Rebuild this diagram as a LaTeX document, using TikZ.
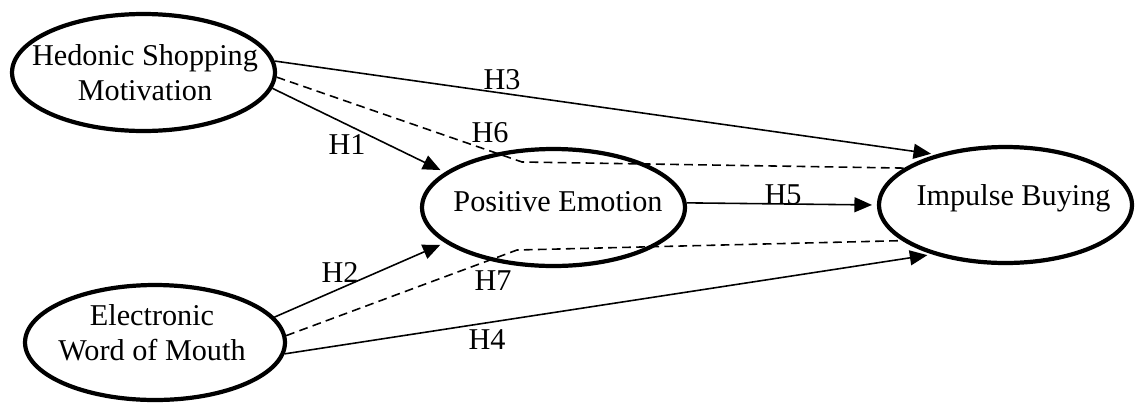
\documentclass[tikz,border=0pt]{standalone}
\usepackage{fontspec}
\setmainfont{Liberation Serif}
\usetikzlibrary{shapes.geometric,arrows.meta}
\begin{document}
\begin{tikzpicture}[x=0.02cm,y=-0.02cm,
  ell/.style={draw, ellipse, line width=2.4pt, inner sep=0pt},
  txt/.style={font=\fontsize{17.2}{19.84}\selectfont, align=center, inner sep=0pt},
  lab/.style={font=\fontsize{17.2}{19.84}\selectfont, inner sep=0pt},
  conn/.style={line width=0.9pt, -{Triangle[length=10pt,width=8.5pt]}, shorten >=2.8pt},
  dconn/.style={line width=0.9pt, dash pattern=on 5pt off 3pt}]
\useasboundingbox (0,0) rectangle (1135,403);
% ellipses
\node[ell, minimum width=5.26cm, minimum height=2.34cm] (hsm) at (143.5,72.5) {};
\node[ell, minimum width=5.26cm, minimum height=2.34cm] (pe) at (553.5,207.5) {};
\node[ell, minimum width=5.2cm, minimum height=2.3cm] (ewom) at (155,342.5) {};
\node[ell, minimum width=5.06cm, minimum height=2.32cm] (ib) at (1005.5,205) {};
% texts
\node[txt] (hsmT) at (145,72.5) {Hedonic Shopping\\Motivation};
\node[txt] (peT) at (558,202) {Positive Emotion};
\node[txt] (ibT) at (1013.5,198) {Impulse Buying};
\node[txt] (ewomT) at (152,333) {Electronic\\Word of Mouth};
% waypoints
\coordinate (c6) at (522,162);
\coordinate (c7) at (517,250);
% connectors
\draw[conn] (hsm.5.5) -- (ib.144.5);
\draw[conn] (hsm.-7) -- (pe.162);
\draw[dconn] (hsm.-2.4) -- (c6) -- (ib.160.3);
\draw[conn] (pe.2) -- (ib.180);
\draw[conn] (ewom.12) -- (pe.198.3);
\draw[dconn] (ewom.3.3) -- (c7) -- (ib.199.5);
\draw[conn] (ewom.-5.6) -- (ib.214.3);
% labels
\node[lab] (l1) at (347,145) {H1};
\node[lab] (l2) at (340,272) {H2};
\node[lab] (l3) at (502,80) {H3};
\node[lab] (l4) at (487,340) {H4};
\node[lab] (l5) at (783,195) {H5};
\node[lab] (l6) at (490,133) {H6};
\node[lab] (l7) at (493,281) {H7};
\end{tikzpicture}
\end{document}
